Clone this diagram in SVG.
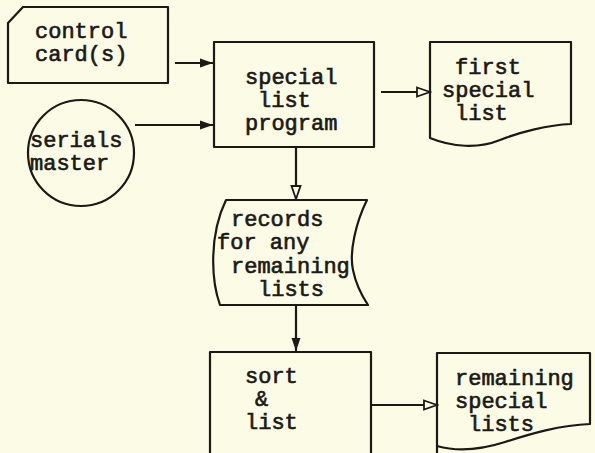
<svg xmlns="http://www.w3.org/2000/svg" width="595" height="453" viewBox="0 0 595 453">
  <defs>
    <marker id="solid" markerUnits="userSpaceOnUse" markerWidth="14" markerHeight="10" refX="13" refY="5" orient="auto">
      <path d="M0,0.5 L13,5 L0,9.5 Z" fill="#1b1916"/>
    </marker>
    <marker id="open" markerUnits="userSpaceOnUse" markerWidth="16" markerHeight="12" refX="14" refY="6" orient="auto">
      <path d="M1,1.5 L14,6 L1,10.5 Z" fill="#fcfce6" stroke="#1b1916" stroke-width="1.8"/>
    </marker>
    <style>
      .bg { fill: #fcfce6; }
      .shape { fill: none; stroke: #1b1916; stroke-width: 2.2; stroke-linejoin: round; }
      .edge { fill: none; stroke: #1b1916; stroke-width: 2.2; }
      .label { font-family: "Liberation Mono", "DejaVu Sans Mono", monospace; font-size: 22px; fill: #1b1916; stroke: #1b1916; stroke-width: 0.65; }
    </style>
  </defs>

  <rect class="bg" x="0" y="0" width="595" height="453"/>

  <!-- input punched card -->
  <g id="control-card">
    <path class="shape" d="M23,7 H168 V83 H8 V23 Z"/>
    <text class="label" x="35" y="38">control</text>
    <text class="label" x="35" y="61">card(s)</text>
  </g>

  <!-- tape file -->
  <g id="serials-master">
    <circle class="shape" cx="81" cy="153" r="53"/>
    <text class="label" x="30" y="147">serials</text>
    <text class="label" x="30" y="170">master</text>
  </g>

  <!-- main process -->
  <g id="special-list-program">
    <rect class="shape" x="214" y="42" width="160" height="105"/>
    <text class="label" x="245" y="84">special</text>
    <text class="label" x="258" y="107">list</text>
    <text class="label" x="245" y="130">program</text>
  </g>

  <!-- printed document -->
  <g id="first-special-list">
    <path class="shape" d="M430,42 H571 V124 C548,125 520,132 500,140 C478,149 452,147 430,138 Z"/>
    <text class="label" x="455" y="74">first</text>
    <text class="label" x="442" y="97">special</text>
    <text class="label" x="455" y="120">list</text>
  </g>

  <!-- intermediate storage -->
  <g id="records">
    <path class="shape" d="M226,200 H367 C356,222 349,252 353,270 C356,285 362,296 368,305 H220 C211,280 209,235 226,200 Z"/>
    <text class="label" x="231" y="226">records</text>
    <text class="label" x="217" y="249">for any</text>
    <text class="label" x="231" y="273">remaining</text>
    <text class="label" x="258" y="296">lists</text>
  </g>

  <!-- second process -->
  <g id="sort-and-list">
    <path class="shape" d="M210,460 V352 H371 V460"/>
    <text class="label" x="245" y="383">sort</text>
    <text class="label" x="255" y="406">&amp;</text>
    <text class="label" x="245" y="429">list</text>
  </g>

  <!-- printed documents -->
  <g id="remaining-special-lists">
    <path class="shape" d="M437,460 V353 H590 V424 C560,425 530,434 505,442 C480,450 458,452 437,446"/>
    <text class="label" x="455" y="385">remaining</text>
    <text class="label" x="455" y="408">special</text>
    <text class="label" x="468" y="431">lists</text>
  </g>

  <g id="connectors">
    <line class="edge" x1="175" y1="63" x2="213" y2="63" marker-end="url(#solid)"/>
    <line class="edge" x1="135" y1="125" x2="213" y2="125" marker-end="url(#solid)"/>
    <line class="edge" x1="381" y1="92" x2="430" y2="92" marker-end="url(#open)"/>
    <line class="edge" x1="296" y1="147" x2="296" y2="199" marker-end="url(#open)"/>
    <line class="edge" x1="296" y1="305" x2="296" y2="351" marker-end="url(#solid)"/>
    <line class="edge" x1="371" y1="405" x2="437" y2="405" marker-end="url(#open)"/>
  </g>
</svg>
